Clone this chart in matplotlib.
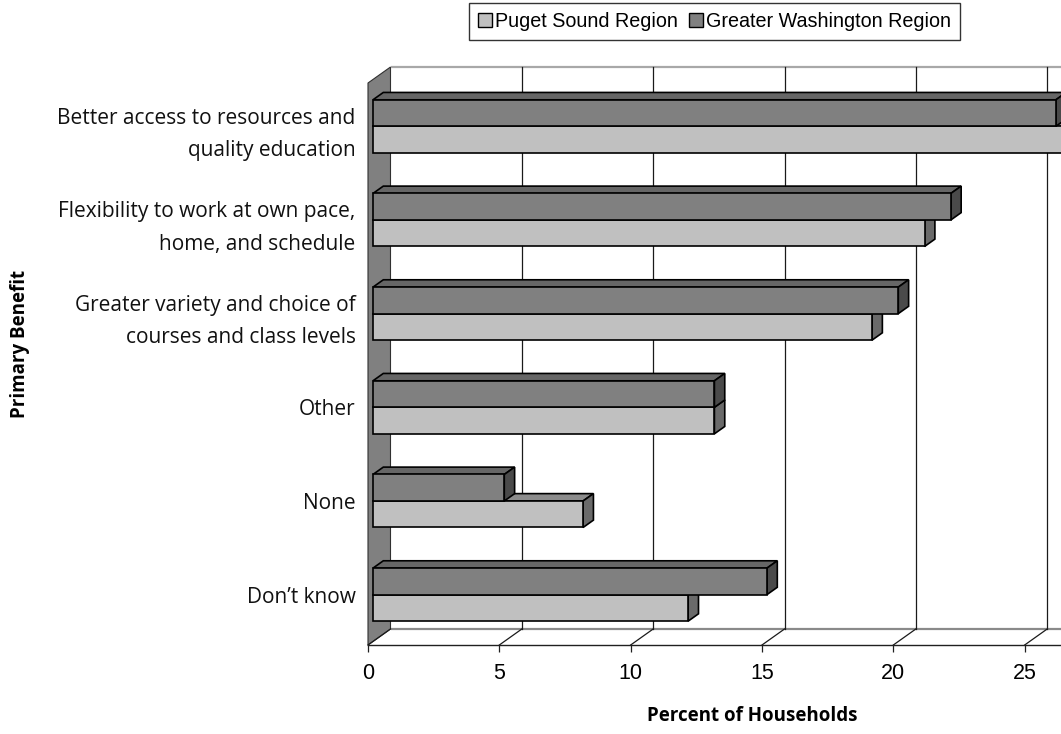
import matplotlib
matplotlib.use("Agg")
import matplotlib.pyplot as plt
from matplotlib.patches import Polygon, Patch

# ---- data -------------------------------------------------------------
categories = [
    "Better access to resources and\nquality education",
    "Flexibility to work at own pace,\nhome, and schedule",
    "Greater variety and choice of\ncourses and class levels",
    "Other",
    "None",
    "Don\u2019t know",
]
puget_sound = [27, 21, 19, 13, 8, 12]
greater_washington = [26, 22, 20, 13, 5, 15]
x_ticks = [0, 5, 10, 15, 20, 25]
x_max = 30
series_names = ["Puget Sound Region", "Greater Washington Region"]

# ---- layout (pixels) ----------------------------------------------------
FIG_W, FIG_H, DPI = 1061, 734, 100
AX_LEFT, AX_RIGHT, AX_TOP, AX_BOTTOM = 368, 1156, 83, 645
DEPTH_PX = (22.5, 16.0)          # 3-D depth of the plot box
BAR_FRONT, BAR_BACK = 0.22, 0.68  # bar depth as fraction of box depth
BAR_H = 0.283                     # height of one bar, in category units

LIGHT = {"front": "#c0c0c0", "top": "#8c8c8c", "side": "#6a6a6a"}
DARK = {"front": "#808080", "top": "#666666", "side": "#4a4a4a"}

label_font = "Open Sans"
num_font = "Liberation Sans"

fig = plt.figure(figsize=(FIG_W / DPI, FIG_H / DPI), dpi=DPI)
ax = fig.add_axes([AX_LEFT / FIG_W, 1 - AX_BOTTOM / FIG_H,
                   (AX_RIGHT - AX_LEFT) / FIG_W, (AX_BOTTOM - AX_TOP) / FIG_H])

n = len(categories)
ax.set_xlim(0, x_max)
ax.set_ylim(n - 0.5, -0.5)

# depth offsets in data units
ddx = DEPTH_PX[0] / ((AX_RIGHT - AX_LEFT) / x_max)
ddy = DEPTH_PX[1] / ((AX_BOTTOM - AX_TOP) / n)
top, bottom = -0.5, n - 0.5

# side wall
ax.add_patch(Polygon([(0, top), (ddx, top - ddy), (ddx, bottom - ddy), (0, bottom)],
                     closed=True, fc="#808080", ec="#303030", lw=0.8,
                     clip_on=False, zorder=1))
# floor
ax.add_patch(Polygon([(0, bottom), (ddx, bottom - ddy), (x_max + ddx, bottom - ddy), (x_max, bottom)],
                     closed=True, fc="white", ec="none", clip_on=False, zorder=0))
ax.plot([ddx, x_max + ddx], [top - ddy] * 2, color="#a8a8a8", lw=1.6,
        clip_on=False, zorder=1, solid_capstyle="butt")
ax.plot([ddx, x_max + ddx], [bottom - ddy] * 2, color="#8a8a8a", lw=1.6,
        clip_on=False, zorder=1, solid_capstyle="butt")

# gridlines on back wall and floor
for v in x_ticks[1:] + [x_max]:
    ax.plot([v + ddx] * 2, [top - ddy, bottom - ddy], color="#1a1a1a", lw=0.9,
            clip_on=False, zorder=1)
for v in x_ticks + [x_max]:
    ax.plot([v, v + ddx], [bottom, bottom - ddy], color="#1a1a1a", lw=0.9,
            clip_on=False, zorder=1)


def draw_bar(value, y0, y1, colors, z):
    """3-D bar: front face between y0 (upper) and y1 (lower)."""
    f0x, f0y = BAR_FRONT * ddx, BAR_FRONT * ddy
    f1x, f1y = BAR_BACK * ddx, BAR_BACK * ddy
    front = [(f0x, y0 - f0y), (value + f0x, y0 - f0y),
             (value + f0x, y1 - f0y), (f0x, y1 - f0y)]
    topf = [(f0x, y0 - f0y), (value + f0x, y0 - f0y),
            (value + f1x, y0 - f1y), (f1x, y0 - f1y)]
    side = [(value + f0x, y0 - f0y), (value + f1x, y0 - f1y),
            (value + f1x, y1 - f1y), (value + f0x, y1 - f0y)]
    for poly, c in ((topf, colors["top"]), (side, colors["side"]), (front, colors["front"])):
        ax.add_patch(Polygon(poly, closed=True, fc=c, ec="black", lw=1.2,
                             joinstyle="miter", clip_on=False, zorder=z))


for i, (p, g) in enumerate(zip(puget_sound, greater_washington)):
    draw_bar(p, i, i + BAR_H, LIGHT, 3)
    draw_bar(g, i - BAR_H, i, DARK, 4)

# axes styling
for s in ("left", "top", "right"):
    ax.spines[s].set_visible(False)
ax.spines["bottom"].set_color("#202020")
ax.spines["bottom"].set_linewidth(1.0)
ax.spines["bottom"].set_zorder(2)
ax.set_xticks(x_ticks)
ax.set_xticklabels([str(t) for t in x_ticks], fontfamily=num_font, fontsize=15.5)
ax.tick_params(axis="x", direction="out", length=5, width=0.9, color="#202020", pad=8)

ax.set_yticks([i - BAR_FRONT * ddy for i in range(n)])
ax.set_yticklabels(categories, fontfamily=label_font, fontsize=15,
                   linespacing=1.7, ha="right", color="#111111")
ax.tick_params(axis="y", length=0, pad=9)
ax.set_facecolor("none")

fig.text(20 / FIG_W, 1 - 344 / FIG_H, "Primary Benefit", rotation=90,
         ha="center", va="center", fontfamily=label_font, fontweight="bold", fontsize=13.5)
fig.text(752 / FIG_W, 1 - 716 / FIG_H, "Percent of Households",
         ha="center", va="center", fontfamily=label_font, fontweight="bold", fontsize=13.5)

handles = [Patch(fc=LIGHT["front"], ec="black", lw=1),
           Patch(fc=DARK["front"], ec="black", lw=1)]
leg = fig.legend(handles, series_names, loc="lower left",
                 bbox_to_anchor=(469 / FIG_W, 1 - 40 / FIG_H), ncol=2,
                 frameon=True, fancybox=False, edgecolor="black",
                 handlelength=0.72, handleheight=0.72, handletextpad=0.15,
                 columnspacing=0.55, borderpad=0.45, borderaxespad=0,
                 prop={"family": num_font, "size": 14.2})
leg.get_frame().set_linewidth(1.0)

fig.savefig("out.png", dpi=DPI)
